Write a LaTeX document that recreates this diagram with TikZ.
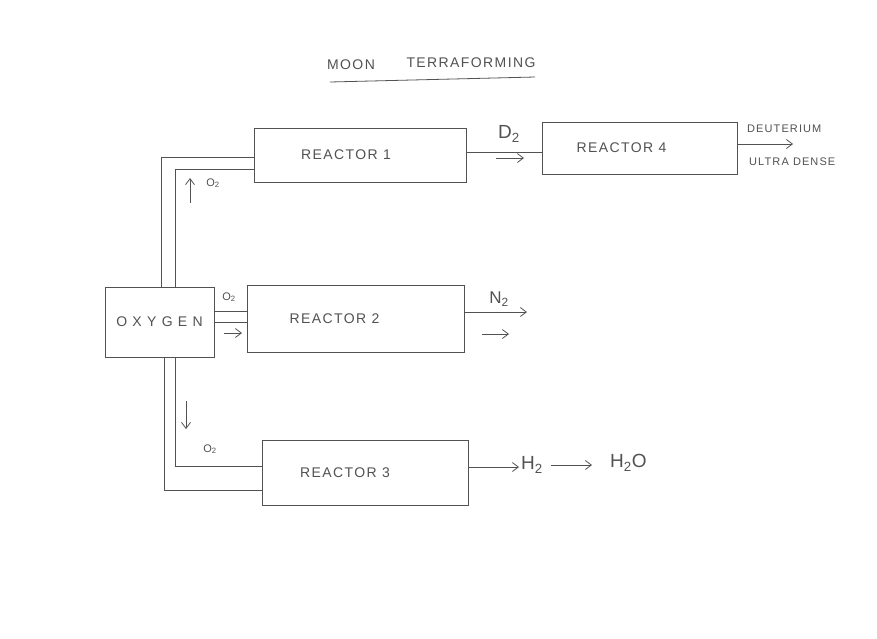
\documentclass[tikz,border=0pt]{standalone}
\usepackage{fontspec}
\setmainfont{Liberation Sans}[LetterSpace=10]
\usetikzlibrary{arrows.meta}
\colorlet{pencil}{black!68}
\tikzset{
  box/.style={draw=pencil, line width=0.8pt, inner sep=0pt, text=pencil, font=\fontsize{14}{16}\selectfont},
  pipe/.style={draw=pencil, line width=0.8pt},
  flow/.style={draw=pencil, line width=0.8pt, -{Straight Barb[length=6pt,width=9pt]}},
  lbl/.style={text=pencil, inner sep=0pt},
  small/.style={lbl, font=\fontsize{11}{13}\selectfont},
  big/.style={lbl, font=\fontsize{19}{21}\selectfont}
}
\begin{document}
\begin{tikzpicture}[x=1pt,y=-1pt]
\useasboundingbox (0,0) rectangle (877,638);
\fill[white] (0,0) rectangle (877,638);

% title
\node[lbl, font=\fontsize{14}{16}\selectfont] (t1) at (351,65) {MOON};
\node[lbl, font=\fontsize{14}{16}\selectfont] (t2) at (471,63) {TERRAFORMING};
\draw[pipe] (330,82) -- (535,77);

% boxes
\node[box, minimum width=212pt, minimum height=54pt] (r1) at (360,155) {\hbox{REACTOR 1\kern28pt}};
\node[box, minimum width=195pt, minimum height=52pt] (r4) at (639.5,148) {\hbox{REACTOR 4\kern36pt}};
\node[box, minimum width=109pt, minimum height=70pt] (oxy) at (159.5,322) {\addfontfeature{LetterSpace=38}OXYGEN};
\node[box, minimum width=217pt, minimum height=67pt] (r2) at (355.5,318.5) {\hbox{REACTOR 2\kern42pt}};
\node[box, minimum width=206pt, minimum height=65pt] (r3) at (365,472.5) {\hbox{REACTOR 3\kern40pt}};

% oxygen -> reactor 1 (two-line pipe)
\draw[pipe] ([xshift=1.5pt]oxy.north) |- ([yshift=-2pt]r1.west);
\draw[pipe] ([xshift=15.5pt]oxy.north) |- ([yshift=-14pt]r1.west);
% oxygen -> reactor 3
\draw[pipe] ([xshift=4.5pt]oxy.south) |- ([yshift=-17.5pt]r3.west);
\draw[pipe] ([xshift=15.5pt]oxy.south) |- ([yshift=6.5pt]r3.west);
% oxygen -> reactor 2
\draw[pipe] ([yshift=11pt]oxy.east) -- ([yshift=11pt]oxy.east -| r2.west);
\draw[pipe] (oxy.east) -- (oxy.east -| r2.west);
% reactor 1 -> reactor 4
\draw[pipe] ([yshift=3pt]r1.east) -- ([yshift=3pt]r1.east -| r4.west);

% outputs
\coordinate (r4out) at (793,144);
\coordinate (r2out) at (527,312);
\draw[flow] ([yshift=4pt]r4.east) -- (r4out);
\draw[flow] ([yshift=6.5pt]r2.east) -- (r2out);
\node[big, anchor=west] (h2) at (521,465) {H\textsubscript{2}};
\node[big, anchor=west] (h2o) at (610,463) {\addfontfeature{LetterSpace=25}H\textsubscript{2}O};
\draw[flow, shorten >=2pt] ([yshift=5.5pt]r3.east) -- ([yshift=5.5pt]r3.east -| h2.west);
\draw[flow, shorten <=8pt, shorten >=18pt] (h2.east) -- (h2.east -| h2o.west);

% labels
\node[big] (d2) at (509,134) {D\textsubscript{2}};
\node[small] (o2a) at (213,183) {O\textsubscript{2}};
\node[small] (o2b) at (229,297) {O\textsubscript{2}};
\node[lbl, font=\fontsize{17}{19}\selectfont] (n2) at (499,299) {N\textsubscript{2}};
\node[small] (o2c) at (210,449) {O\textsubscript{2}};
\node[small, anchor=west] (deu) at (747,129) {DEUTERIUM};
\node[small, anchor=west] (ud) at (749,162) {ULTRA DENSE};

% small direction arrows
\coordinate (a1s) at (190,203); \coordinate (a1e) at (190,178);
\coordinate (a2s) at (496,158); \coordinate (a2e) at (524,158);
\coordinate (a3s) at (224,333); \coordinate (a3e) at (242,333);
\coordinate (a4s) at (482,334); \coordinate (a4e) at (509,334);
\coordinate (a5s) at (186,401); \coordinate (a5e) at (186,429);
\draw[flow] (a1s) -- (a1e);
\draw[flow] (a2s) -- (a2e);
\draw[flow] (a3s) -- (a3e);
\draw[flow] (a4s) -- (a4e);
\draw[flow] (a5s) -- (a5e);
\end{tikzpicture}
\end{document}
